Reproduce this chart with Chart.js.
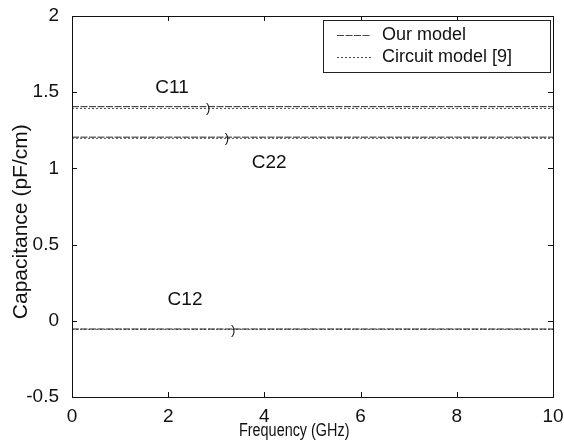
<!DOCTYPE html>
<html>
<head>
<meta charset="utf-8">
<script src="https://cdn.jsdelivr.net/npm/chart.js@4"></script>
<style>
  html, body { margin: 0; padding: 0; background: #fff; }
  canvas { display: block; }
</style>
</head>
<body>
<canvas id="capChart" width="564" height="441"></canvas>
<script>
// Frequency sweep (GHz)
const freq = [0, 2, 4, 6, 8, 10];

// Capacitance values (pF/cm), flat over frequency
const ourC11 = [1.405, 1.405, 1.405, 1.405, 1.405, 1.405];
const circC11 = [1.393, 1.393, 1.393, 1.393, 1.393, 1.393];
const ourC22 = [1.205, 1.205, 1.205, 1.205, 1.205, 1.205];
const circC22 = [1.197, 1.197, 1.197, 1.197, 1.197, 1.197];
const ourC12 = [-0.054, -0.054, -0.054, -0.054, -0.054, -0.054];
const circC12 = [-0.056, -0.056, -0.056, -0.056, -0.056, -0.056];

const seriesNames = ["Our model", "Circuit model [9]"];

// curve labels and the little ")" marks on each curve
const curveLabels = ["C11", "C22", "C12"];
const labelX = [2.08, 4.1, 2.35];
const labelY = [1.53, 1.04, 0.14];
const markX = [2.83, 3.22, 3.35];
const markY = [1.40, 1.20, -0.055];

const yTicks = [-0.5, 0, 0.5, 1, 1.5, 2];
const xTicks = [0, 2, 4, 6, 8, 10];

const xTitle = "Frequency (GHz)";
const yTitle = "Capacitance (pF/cm)";

const FONT = "'Liberation Sans', Arial, Helvetica, sans-serif";
const ourDash = [7, 1.5];
const circDash = [2, 2];

function pts(ys) {
  return freq.map((f, i) => ({ x: f, y: ys[i] }));
}

function ds(label, ys, dash, color) {
  return {
    label: label,
    data: pts(ys),
    borderColor: color,
    borderWidth: 1,
    borderDash: dash,
    pointRadius: 0,
    fill: false,
    tension: 0
  };
}

// frame, inward ticks, axis titles, curve labels and legend box
const framePlugin = {
  id: "frame",
  afterDraw(chart) {
    const { ctx, chartArea: a, scales } = chart;
    ctx.save();
    ctx.strokeStyle = "#111";
    ctx.lineWidth = 1;
    ctx.setLineDash([]);
    ctx.strokeRect(a.left + 0.5, a.top + 0.5, a.right - a.left, a.bottom - a.top);
    const len = 5;
    ctx.beginPath();
    xTicks.forEach(v => {
      const px = Math.round(scales.x.getPixelForValue(v)) + 0.5;
      ctx.moveTo(px, a.bottom); ctx.lineTo(px, a.bottom - len);
      ctx.moveTo(px, a.top); ctx.lineTo(px, a.top + len);
    });
    yTicks.forEach(v => {
      const py = Math.round(scales.y.getPixelForValue(v)) + 0.5;
      ctx.moveTo(a.left, py); ctx.lineTo(a.left + len, py);
      ctx.moveTo(a.right, py); ctx.lineTo(a.right - len, py);
    });
    ctx.stroke();

    ctx.fillStyle = "#111";
    ctx.textAlign = "center";
    ctx.textBaseline = "middle";

    // axis titles (the original sits a bit off centre, in a narrow face)
    ctx.save();
    ctx.translate(a.left + (a.right - a.left) * 0.462, a.bottom + 34);
    ctx.scale(0.8, 1);
    ctx.font = "18px " + FONT;
    ctx.fillText(xTitle, 0, 0);
    ctx.restore();
    ctx.save();
    ctx.translate(21, a.top + (a.bottom - a.top) * 0.54);
    ctx.rotate(-Math.PI / 2);
    ctx.font = "21px " + FONT;
    ctx.fillText(yTitle, 0, 0);
    ctx.restore();

    // curve labels
    ctx.font = "19px " + FONT;
    curveLabels.forEach((t, i) => {
      ctx.fillText(t, scales.x.getPixelForValue(labelX[i]), scales.y.getPixelForValue(labelY[i]));
    });
    ctx.font = "13px " + FONT;
    markX.forEach((x, i) => {
      ctx.fillText(")", scales.x.getPixelForValue(x), scales.y.getPixelForValue(markY[i]) + 1);
    });

    // legend box
    const bx = a.right - 230, by = a.top + 4, bw = 227, bh = 52;
    ctx.fillStyle = "#fff";
    ctx.fillRect(bx, by, bw, bh);
    ctx.strokeStyle = "#222";
    ctx.strokeRect(bx + 0.5, by + 0.5, bw, bh);
    const dashes = [ourDash, circDash];
    ctx.font = "18px " + FONT;
    ctx.textAlign = "left";
    seriesNames.forEach((n, i) => {
      const ly = by + 15 + i * 22 + 0.5;
      ctx.setLineDash(dashes[i]);
      ctx.strokeStyle = "#444";
      ctx.beginPath();
      ctx.moveTo(bx + 14, ly);
      ctx.lineTo(bx + 48, ly);
      ctx.stroke();
      ctx.setLineDash([]);
      ctx.fillStyle = "#111";
      ctx.fillText(n, bx + 59, ly);
    });
    ctx.restore();
  }
};

new Chart(document.getElementById("capChart"), {
  type: "line",
  data: {
    datasets: [
      ds(seriesNames[0], ourC11, ourDash, "#222"),
      ds(seriesNames[1], circC11, circDash, "#555"),
      ds(seriesNames[0], ourC22, ourDash, "#222"),
      ds(seriesNames[1], circC22, circDash, "#555"),
      ds(seriesNames[0], ourC12, ourDash, "#222"),
      ds(seriesNames[1], circC12, circDash, "#555")
    ]
  },
  options: {
    responsive: false,
    animation: false,
    layout: { padding: { left: 0, right: 11, top: 16, bottom: 0 } },
    plugins: {
      legend: { display: false },
      tooltip: { enabled: false }
    },
    scales: {
      x: {
        type: "linear",
        min: 0,
        max: 10,
        afterBuildTicks: s => { s.ticks = xTicks.map(v => ({ value: v })); },
        afterFit: s => { s.height = 44; s.paddingLeft = 0; s.paddingRight = 0; },
        grid: { display: false },
        border: { display: false },
        ticks: { color: "#111", font: { family: FONT, size: 19 }, padding: 0, maxRotation: 0, callback: v => String(v) },
        title: { display: false }
      },
      y: {
        type: "linear",
        min: -0.5,
        max: 2,
        afterBuildTicks: s => { s.ticks = yTicks.map(v => ({ value: v })); },
        afterFit: s => { s.width = 72; s.paddingTop = 0; s.paddingBottom = 0; },
        grid: { display: false },
        border: { display: false },
        ticks: { color: "#111", font: { family: FONT, size: 19 }, padding: 5, callback: v => String(v) },
        title: { display: false }
      }
    }
  },
  plugins: [framePlugin]
});
</script>
</body>
</html>
